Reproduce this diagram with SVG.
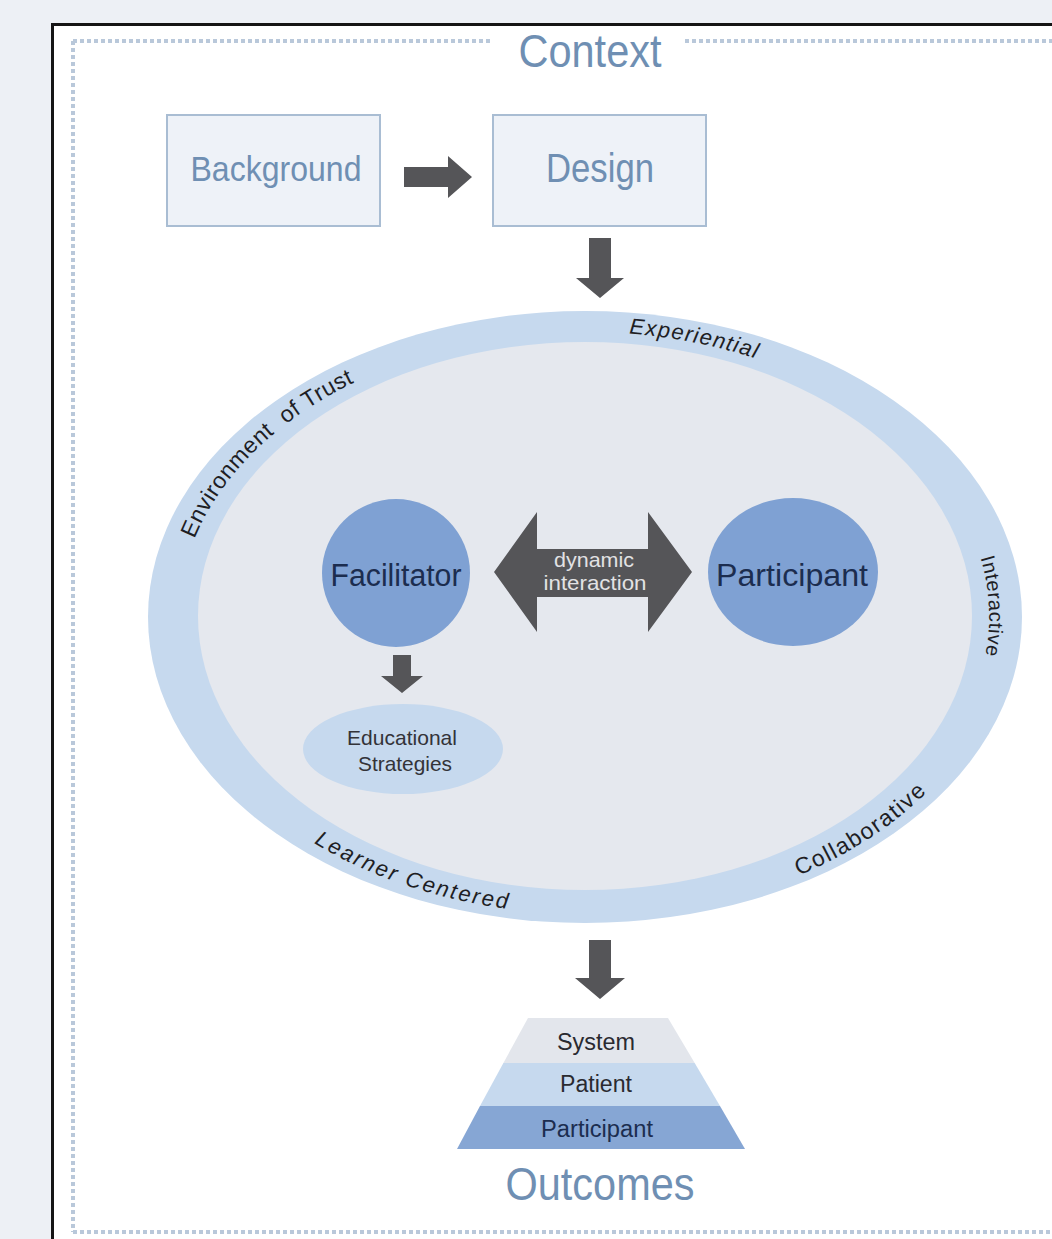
<svg xmlns="http://www.w3.org/2000/svg" width="1052" height="1239" viewBox="0 0 1052 1239">
  <style>
    .dash { fill: none; stroke: #b9c8da; stroke-width: 4; stroke-dasharray: 4 3; }
    .box { fill: #eef2f8; stroke: #a9bdd3; stroke-width: 2; }
    .title { font-family: "Liberation Sans Narrow", "Liberation Sans", Arial, sans-serif; fill: #6f8fb3; text-anchor: middle; }
    .node { font-family: "Liberation Sans Narrow", "Liberation Sans", Arial, sans-serif; text-anchor: middle; }
    .ring { font-family: "Liberation Sans", Arial, sans-serif; fill: #1e1e24; text-anchor: middle; }
    .arrow { fill: #555558; }
    .core { fill: #7fa1d3; }
    .light { fill: #c6d9ee; }
  </style>
  <defs>
    <!-- baselines for the labels written inside the ring -->
    <path id="arcTrust" d="M179.2,607.1 A406,285 0 0 1 419.9,356.6"/>
    <path id="arcExperiential" d="M556.7,332.7 A406,285 0 0 1 823.6,386.4"/>
    <path id="arcInteractive" d="M960,510.2 A404,285 0 0 1 969.2,705.1"/>
    <path id="arcCollaborative" d="M708.1,904.0 A421,300 0 0 0 983.1,714.7"/>
    <path id="arcLearner" d="M242.6,787.4 A418,297 0 0 0 599.6,913.8"/>
  </defs>

  <!-- page and frame -->
  <rect x="0" y="0" width="1052" height="1239" fill="#edf0f5"/>
  <rect x="53" y="25" width="999" height="1214" fill="#ffffff"/>
  <path d="M52.5,1239 V24.5 H1052" fill="none" stroke="#151515" stroke-width="3"/>

  <!-- dotted context border -->
  <g id="context">
    <line class="dash" x1="73" y1="41" x2="73" y2="1232"/>
    <line class="dash" x1="73" y1="41" x2="493" y2="41"/>
    <line class="dash" x1="685" y1="41" x2="1052" y2="41"/>
    <line class="dash" x1="73" y1="1232" x2="1052" y2="1232"/>
    <text class="title" x="590" y="67" font-size="46" textLength="143" lengthAdjust="spacingAndGlyphs">Context</text>
  </g>

  <g id="background">
    <rect class="box" x="167" y="115" width="213" height="111"/>
    <text class="title" x="276" y="181" font-size="35" textLength="171" lengthAdjust="spacingAndGlyphs">Background</text>
  </g>

  <g id="design">
    <rect class="box" x="493" y="115" width="213" height="111"/>
    <text class="title" x="600" y="182" font-size="40" textLength="108" lengthAdjust="spacingAndGlyphs">Design</text>
  </g>

  <!-- learning environment ring -->
  <g id="environment">
    <ellipse cx="585" cy="617" rx="437" ry="306" fill="#c6d9ee"/>
    <ellipse cx="585" cy="616" rx="387" ry="274" fill="#e5e8ee"/>
    <text class="ring" font-size="23" letter-spacing="0.5"><textPath href="#arcTrust" startOffset="50%">Environment&#160; of Trust</textPath></text>
    <text class="ring" font-size="22" font-style="italic" letter-spacing="1.3"><textPath href="#arcExperiential" startOffset="50%">Experiential</textPath></text>
    <text class="ring" font-size="20" letter-spacing="0.6"><textPath href="#arcInteractive" startOffset="50%">Interactive</textPath></text>
    <text class="ring" font-size="23" letter-spacing="1.6"><textPath href="#arcCollaborative" startOffset="50%">Collaborative</textPath></text>
    <text class="ring" font-size="22" font-style="italic" letter-spacing="2.2"><textPath href="#arcLearner" startOffset="50%">Learner Centered</textPath></text>
  </g>

  <g id="facilitator">
    <circle class="core" cx="396" cy="573" r="74"/>
    <text class="node" x="396" y="586" font-size="31" fill="#1c2d4f" textLength="131" lengthAdjust="spacingAndGlyphs">Facilitator</text>
  </g>

  <g id="participant">
    <ellipse class="core" cx="793" cy="572" rx="85" ry="74"/>
    <text class="node" x="792" y="586" font-size="31" fill="#1c2d4f" textLength="152" lengthAdjust="spacingAndGlyphs">Participant</text>
  </g>

  <g id="educational-strategies">
    <ellipse class="light" cx="403" cy="749" rx="100" ry="45"/>
    <text class="node" x="402" y="745" font-size="21" fill="#333338" textLength="110" lengthAdjust="spacingAndGlyphs">Educational</text>
    <text class="node" x="405" y="771" font-size="21" fill="#333338" textLength="94" lengthAdjust="spacingAndGlyphs">Strategies</text>
  </g>

  <!-- outcomes pyramid -->
  <g id="outcomes">
    <polygon points="528,1018 668,1018 694.7,1063 503.4,1063" fill="#e3e6ec"/>
    <polygon points="503.4,1063 694.7,1063 720,1106 480,1106" fill="#c6d9ee"/>
    <polygon points="480,1106 720,1106 745,1149 457,1149" fill="#86a6d4"/>
    <text class="node" x="596" y="1050" font-size="23" fill="#2a2a30" textLength="78" lengthAdjust="spacingAndGlyphs">System</text>
    <text class="node" x="596" y="1092" font-size="23" fill="#2a2a30" textLength="72" lengthAdjust="spacingAndGlyphs">Patient</text>
    <text class="node" x="597" y="1137" font-size="23" fill="#1c2d4f" textLength="112" lengthAdjust="spacingAndGlyphs">Participant</text>
    <text class="title" x="600" y="1200" font-size="46" textLength="189" lengthAdjust="spacingAndGlyphs">Outcomes</text>
  </g>

  <!-- connectors -->
  <g id="connectors">
    <polygon class="arrow" points="404,167 448,167 448,156 472,177 448,198 448,187 404,187"/>
    <polygon class="arrow" points="589,238 611,238 611,278 624,278 600,298 576,278 589,278"/>
    <g id="dynamic-interaction">
      <polygon class="arrow" points="494,572 537,512 537,549 648,549 648,512 692,572 648,632 648,597 537,597 537,632"/>
      <text class="node" x="594" y="567" font-size="21" fill="#e2e2e4" textLength="80" lengthAdjust="spacingAndGlyphs">dynamic</text>
      <text class="node" x="595" y="590" font-size="21" fill="#e2e2e4" textLength="103" lengthAdjust="spacingAndGlyphs">interaction</text>
    </g>
    <polygon class="arrow" points="393,655 411,655 411,676 423,676 402,693 381,676 393,676"/>
    <polygon class="arrow" points="589,940 611,940 611,978 625,978 600,999 575,978 589,978"/>
  </g>
</svg>
